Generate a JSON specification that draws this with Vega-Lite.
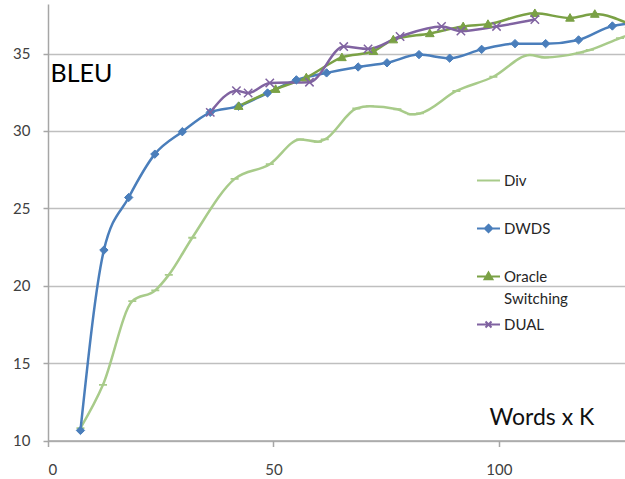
{
  "$schema": "https://vega.github.io/schema/vega-lite/v6.json",
  "autosize": {"type": "none"},
  "padding": {"left": 48, "top": 4, "right": 0, "bottom": 38.5},
  "width": 577,
  "height": 436.5,
  "background": "white",
  "config": {"view": {"stroke": null}, "font": "Lato"},
  "data": {
    "values": [
      {"s": "Div", "x": 7.2, "y": 10.8},
      {"s": "Div", "x": 12.2, "y": 13.6},
      {"s": "Div", "x": 18.7, "y": 19.0},
      {"s": "Div", "x": 23.8, "y": 19.7},
      {"s": "Div", "x": 26.8, "y": 20.7},
      {"s": "Div", "x": 32.0, "y": 23.1},
      {"s": "Div", "x": 41.4, "y": 26.9},
      {"s": "Div", "x": 49.2, "y": 27.85},
      {"s": "Div", "x": 55.9, "y": 29.45},
      {"s": "Div", "x": 59.9, "y": 29.3},
      {"s": "Div", "x": 61.4, "y": 29.45},
      {"s": "Div", "x": 68.4, "y": 31.45},
      {"s": "Div", "x": 71.4, "y": 31.6},
      {"s": "Div", "x": 77.5, "y": 31.4},
      {"s": "Div", "x": 80.6, "y": 31.07},
      {"s": "Div", "x": 82.5, "y": 31.13},
      {"s": "Div", "x": 90.6, "y": 32.58},
      {"s": "Div", "x": 98.8, "y": 33.5},
      {"s": "Div", "x": 106.9, "y": 34.9},
      {"s": "Div", "x": 110.2, "y": 34.75},
      {"s": "Div", "x": 118.0, "y": 35.06},
      {"s": "Div", "x": 120.2, "y": 35.23},
      {"s": "Div", "x": 126.9, "y": 36.0},
      {"s": "Div", "x": 133.0, "y": 36.6},
      {"s": "DWDS", "x": 7.2, "y": 10.65},
      {"s": "DWDS", "x": 12.4, "y": 22.3},
      {"s": "DWDS", "x": 17.9, "y": 25.7},
      {"s": "DWDS", "x": 23.7, "y": 28.5},
      {"s": "DWDS", "x": 29.8, "y": 29.95},
      {"s": "DWDS", "x": 36.0, "y": 31.2},
      {"s": "DWDS", "x": 42.3, "y": 31.6},
      {"s": "DWDS", "x": 48.7, "y": 32.45},
      {"s": "DWDS", "x": 55.1, "y": 33.3},
      {"s": "DWDS", "x": 61.8, "y": 33.75},
      {"s": "DWDS", "x": 68.8, "y": 34.13},
      {"s": "DWDS", "x": 75.2, "y": 34.4},
      {"s": "DWDS", "x": 82.3, "y": 34.93},
      {"s": "DWDS", "x": 89.1, "y": 34.7},
      {"s": "DWDS", "x": 96.2, "y": 35.27},
      {"s": "DWDS", "x": 103.6, "y": 35.64},
      {"s": "DWDS", "x": 110.4, "y": 35.64},
      {"s": "DWDS", "x": 117.7, "y": 35.88},
      {"s": "DWDS", "x": 125.2, "y": 36.78},
      {"s": "DWDS", "x": 132.0, "y": 37.0},
      {"s": "Oracle Switching", "x": 42.3, "y": 31.6},
      {"s": "Oracle Switching", "x": 50.5, "y": 32.7},
      {"s": "Oracle Switching", "x": 57.3, "y": 33.45},
      {"s": "Oracle Switching", "x": 65.2, "y": 34.75},
      {"s": "Oracle Switching", "x": 72.2, "y": 35.15},
      {"s": "Oracle Switching", "x": 76.6, "y": 35.9},
      {"s": "Oracle Switching", "x": 84.7, "y": 36.3},
      {"s": "Oracle Switching", "x": 92.1, "y": 36.75},
      {"s": "Oracle Switching", "x": 97.6, "y": 36.9},
      {"s": "Oracle Switching", "x": 108.0, "y": 37.6},
      {"s": "Oracle Switching", "x": 115.8, "y": 37.3},
      {"s": "Oracle Switching", "x": 121.3, "y": 37.55},
      {"s": "Oracle Switching", "x": 129.0, "y": 36.9},
      {"s": "DUAL", "x": 36.0, "y": 31.2},
      {"s": "DUAL", "x": 41.8, "y": 32.6},
      {"s": "DUAL", "x": 44.4, "y": 32.45},
      {"s": "DUAL", "x": 49.2, "y": 33.1},
      {"s": "DUAL", "x": 58.0, "y": 33.15},
      {"s": "DUAL", "x": 65.6, "y": 35.45},
      {"s": "DUAL", "x": 71.0, "y": 35.3},
      {"s": "DUAL", "x": 78.1, "y": 36.1},
      {"s": "DUAL", "x": 87.3, "y": 36.75},
      {"s": "DUAL", "x": 91.6, "y": 36.45},
      {"s": "DUAL", "x": 99.5, "y": 36.75},
      {"s": "DUAL", "x": 108.0, "y": 37.2}
    ]
  },
  "encoding": {
    "x": {
      "field": "x", "type": "quantitative",
      "scale": {"domain": [0, 128], "nice": false, "zero": false},
      "axis": {
        "values": [0, 50, 100], "grid": false,
        "domainColor": "#a6a6a6", "domainWidth": 1.5,
        "tickColor": "#a6a6a6", "tickSize": 6, "tickWidth": 1.5,
        "labelFontSize": 15, "labelColor": "#404040", "labelPadding": 16,
        "title": "Words x K", "titleX": 441, "titleY": -16,
        "titleAlign": "left", "titleBaseline": "alphabetic",
        "titleFontSize": 23, "titleFont": "Lato",
        "titleFontWeight": "normal", "titleColor": "#111111"
      }
    },
    "y": {
      "field": "y", "type": "quantitative",
      "scale": {"domain": [10, 38.2], "nice": false, "zero": false},
      "axis": {
        "values": [10, 15, 20, 25, 30, 35], "grid": true,
        "gridColor": "#bfbfbf", "gridWidth": 1.5,
        "domainColor": "#a6a6a6", "domainWidth": 1.5,
        "tickColor": "#a6a6a6", "tickSize": 5, "tickWidth": 1.5,
        "labelFontSize": 15, "labelColor": "#404040", "labelPadding": 13,
        "title": "BLEU", "titleAngle": 0, "titleX": 2, "titleY": 77,
        "titleAlign": "left", "titleBaseline": "alphabetic",
        "titleFontSize": 25, "titleFontWeight": "normal", "titleColor": "#000000"
      }
    }
  },
  "layer": [
    {
      "mark": {"type": "line", "interpolate": "monotone", "strokeWidth": 2.5, "clip": true},
      "encoding": {
        "color": {
          "field": "s", "type": "nominal",
          "scale": {
            "domain": ["Div", "DWDS", "Oracle Switching", "DUAL"],
            "range": ["#a8cb8a", "#4a7ebb", "#7aa145", "#8063a1"]
          },
          "legend": {
            "orient": "none", "legendX": 428, "legendY": 164,
            "title": null, "padding": 0, "rowPadding": 0,
            "symbolSize": 529, "symbolStrokeWidth": 2,
            "labelFontSize": 15, "labelColor": "#262626", "labelOffset": 3,
            "labelBaseline": "top",
            "labelExpr": "datum.label == 'Oracle Switching' ? ['Oracle', 'Switching'] : datum.label",
            "encode": {
              "symbols": {
                "update": {
                  "shape": {"signal": "'M-1,-0.8M-1,2.6' + (datum.value == 'Div' ? 'M-1,0H1' : datum.value == 'DWDS' ? 'M-1,0H1M0,-0.32L0.32,0L0,0.32L-0.32,0Z' : datum.value == 'DUAL' ? 'M-1,0H1M-0.26,-0.26L0.26,0.26M0.26,-0.26L-0.26,0.26' : 'M-1,0H1M0,-0.34L0.34,0.24L-0.34,0.24Z')"},
                  "fill": {"signal": "scale('color', datum.value)"},
                  "stroke": {"signal": "scale('color', datum.value)"},
                  "fillOpacity": {"value": 1},
                  "opacity": {"value": 1}
                }
              },
              "labels": {
                "update": {"dy": {"value": -7}, "lineHeight": {"value": 22}}
              }
            }
          }
        }
      }
    },
    {
      "transform": [{"filter": "datum.s == 'Div'"}],
      "mark": {"type": "point", "shape": "M-1,0L1,0", "filled": false, "size": 64, "strokeWidth": 1.8, "opacity": 1, "color": "#a8cb8a", "clip": true}
    },
    {
      "transform": [{"filter": "datum.s == 'DWDS'"}],
      "mark": {"type": "point", "shape": "M0,-1L1,0L0,1L-1,0Z", "filled": true, "size": 70, "strokeWidth": 1, "stroke": "#4a7ebb", "opacity": 1, "color": "#4a7ebb", "clip": true}
    },
    {
      "transform": [{"filter": "datum.s == 'Oracle Switching'"}],
      "mark": {"type": "point", "shape": "M0,-1L1,0.75L-1,0.75Z", "filled": true, "size": 75, "strokeWidth": 1, "stroke": "#7aa145", "opacity": 1, "color": "#7aa145", "clip": true}
    },
    {
      "transform": [{"filter": "datum.s == 'DUAL'"}],
      "mark": {"type": "point", "shape": "M-1,-1L1,1M1,-1L-1,1", "filled": false, "size": 70, "strokeWidth": 1.5, "opacity": 1, "color": "#8063a1", "clip": true}
    }
  ]
}
